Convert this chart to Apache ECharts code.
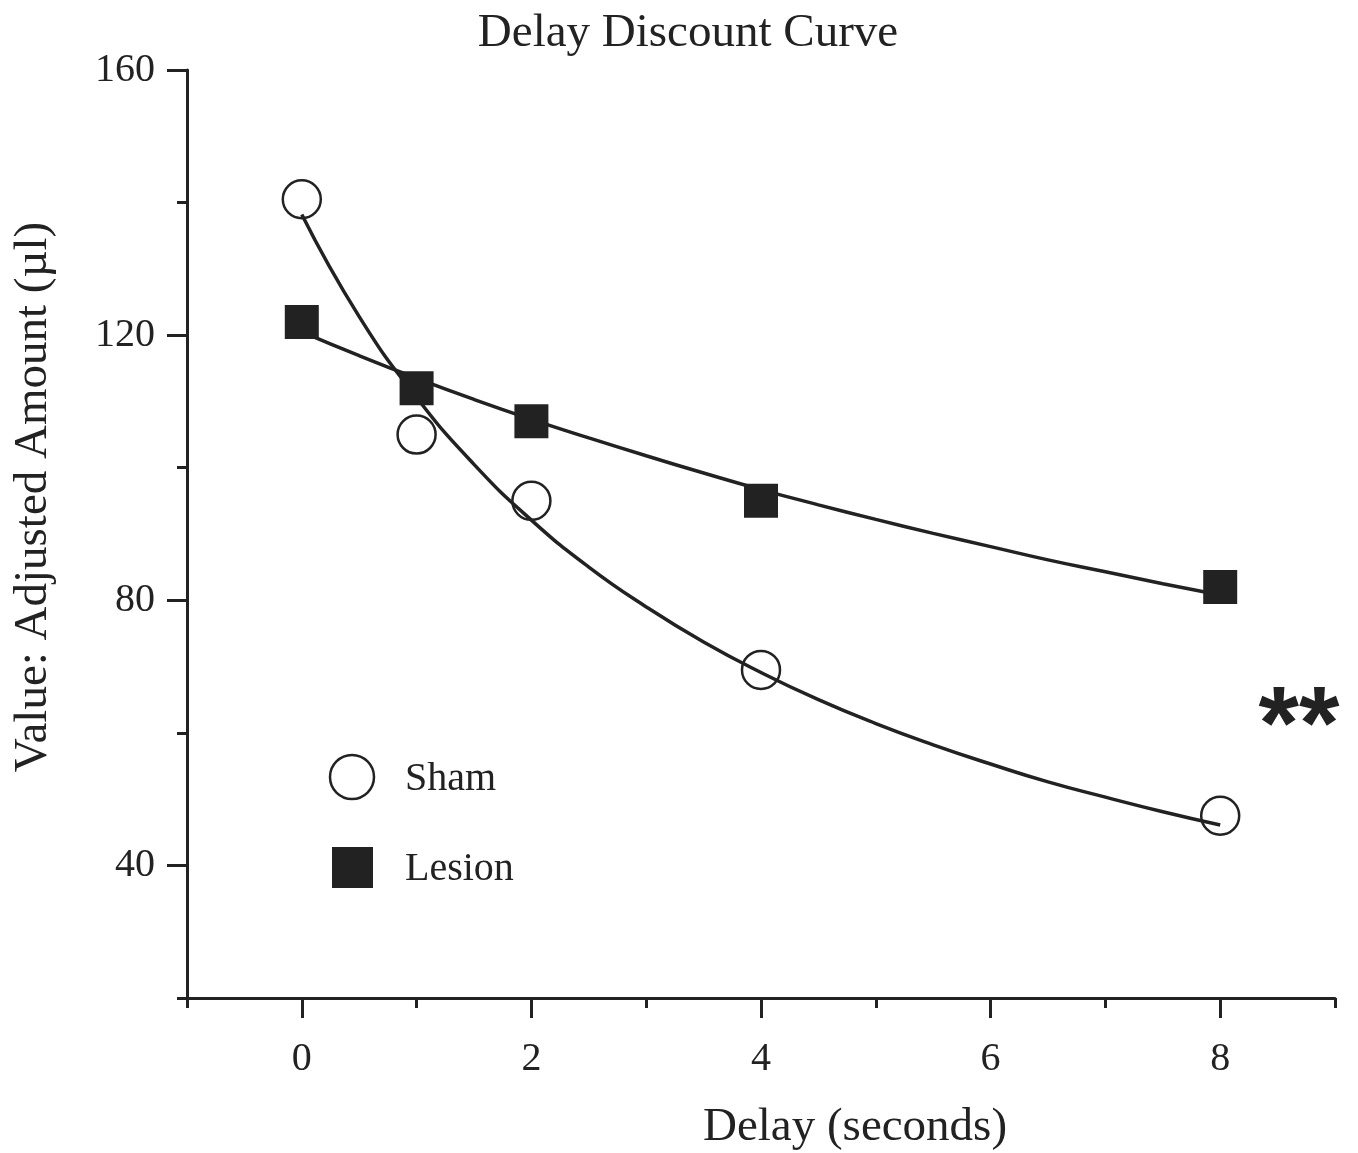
<!DOCTYPE html>
<html>
<head>
<meta charset="utf-8">
<title>Delay Discount Curve</title>
<script src="https://cdn.jsdelivr.net/npm/echarts@6/dist/echarts.min.js"></script>
<style>
  html, body { margin: 0; padding: 0; background: #fff; }
  #chart { width: 1358px; height: 1153px; }
</style>
</head>
<body>
<div id="chart"></div>
<script>
// Delays tested (seconds)
const delays = [0, 1, 2, 4, 8];
// Mean adjusted amounts (µl) per group
const shamValues = [140.5, 105, 95, 69.5, 47.5];
const lesionValues = [122, 112, 107, 95, 82];

// Fitted discount curves, sampled every half second along the delay axis
const fitDelays = [0, 0.5, 1, 1.5, 2, 2.5, 3, 3.5, 4, 4.5, 5, 5.5, 6, 6.5, 7, 7.5, 8];
const shamFit = [138.2, 122.8, 110.6, 100.5, 92.1, 85.0, 79.0, 73.7, 69.1, 65.0, 61.4, 58.2, 55.3, 52.6, 50.3, 48.1, 46.1];
const lesionFit = [120.5, 116.9, 113.5, 110.3, 107.3, 104.5, 101.8, 99.2, 96.7, 94.4, 92.2, 90.1, 88.1, 86.1, 84.3, 82.5, 80.8];

// Axis tick positions and labels
const xMajorTicks = [0, 2, 4, 6, 8];
const xMinorTicks = [-1, 1, 3, 5, 7, 9];
const yMajorTicks = [40, 80, 120, 160];
const yMinorTicks = [20, 60, 100, 140];

const ink = '#222';
const serif = '"Liberation Serif", "Times New Roman", serif';

const pairs = (xs, ys) => xs.map((x, i) => [x, ys[i]]);

const chart = echarts.init(document.getElementById('chart'), null, { renderer: 'canvas' });

const axisLineStyle = { color: ink, width: 3 };

chart.setOption({
  backgroundColor: '#fff',
  animation: false,
  grid: { left: 187, right: 23, top: 70, bottom: 155, containLabel: false },
  xAxis: [
    {
      type: 'value', min: -1, max: 9, interval: 1, position: 'bottom',
      axisLine: { show: true, onZero: false, lineStyle: axisLineStyle },
      axisTick: { show: true, customValues: xMajorTicks, length: 20, lineStyle: { color: ink, width: 3 } },
      axisLabel: { customValues: xMajorTicks, margin: 41, color: ink, fontFamily: serif, fontSize: 40 },
      splitLine: { show: false }
    },
    {
      type: 'value', min: -1, max: 9, interval: 1, position: 'bottom', offset: 0,
      axisLine: { show: false, onZero: false },
      axisTick: { show: true, customValues: xMinorTicks, length: 10, lineStyle: { color: ink, width: 3 } },
      axisLabel: { show: false },
      splitLine: { show: false }
    }
  ],
  yAxis: [
    {
      type: 'value', min: 20, max: 160, interval: 20, position: 'left',
      axisLine: { show: true, onZero: false, lineStyle: axisLineStyle },
      axisTick: { show: true, customValues: yMajorTicks, length: 20, lineStyle: { color: ink, width: 3 } },
      axisLabel: { customValues: yMajorTicks, margin: 32, color: ink, fontFamily: serif, fontSize: 40 },
      splitLine: { show: false }
    },
    {
      type: 'value', min: 20, max: 160, interval: 20, position: 'left', offset: 0,
      axisLine: { show: false, onZero: false },
      axisTick: { show: true, customValues: yMinorTicks, length: 10, lineStyle: { color: ink, width: 3 } },
      axisLabel: { show: false },
      splitLine: { show: false }
    }
  ],
  series: [
    {
      name: 'Sham fit', type: 'line', smooth: true, showSymbol: false,
      data: pairs(fitDelays, shamFit),
      lineStyle: { color: ink, width: 3.5 }, z: 2
    },
    {
      name: 'Lesion fit', type: 'line', smooth: true, showSymbol: false,
      data: pairs(fitDelays, lesionFit),
      lineStyle: { color: ink, width: 3.5 }, z: 2
    },
    {
      name: 'Sham', type: 'scatter', symbol: 'circle', symbolSize: 38,
      data: pairs(delays, shamValues),
      itemStyle: { color: 'rgba(0,0,0,0)', borderColor: ink, borderWidth: 2.5, opacity: 1 },
      z: 3
    },
    {
      name: 'Lesion', type: 'scatter', symbol: 'rect', symbolSize: 34,
      data: pairs(delays, lesionValues),
      itemStyle: { color: ink, opacity: 1 },
      z: 3
    }
  ],
  graphic: [
    { type: 'text', x: 688, y: 34, style: { text: 'Delay Discount Curve', fill: ink, font: '47px ' + serif, textAlign: 'center', textVerticalAlign: 'middle' } },
    { type: 'text', x: 855, y: 1128, style: { text: 'Delay (seconds)', fill: ink, font: '47px ' + serif, textAlign: 'center', textVerticalAlign: 'middle' } },
    { type: 'text', x: 34, y: 497, rotation: Math.PI / 2, style: { text: 'Value: Adjusted Amount (µl)', fill: ink, font: '47px ' + serif, textAlign: 'center', textVerticalAlign: 'middle' } },
    // Legend
    { type: 'circle', shape: { cx: 352, cy: 777, r: 22 }, style: { fill: 'none', stroke: ink, lineWidth: 2.5 } },
    { type: 'text', x: 405, y: 779, style: { text: 'Sham', fill: ink, font: '40px ' + serif, textAlign: 'left', textVerticalAlign: 'middle' } },
    { type: 'rect', shape: { x: 332, y: 847, width: 41, height: 41 }, style: { fill: ink } },
    { type: 'text', x: 405, y: 869, style: { text: 'Lesion', fill: ink, font: '40px ' + serif, textAlign: 'left', textVerticalAlign: 'middle' } },
    // Significance marker
    { type: 'text', x: 1299, y: 730, style: { text: '**', fill: ink, font: 'bold 104px "Liberation Sans", Arial, sans-serif', textAlign: 'center', textVerticalAlign: 'middle' } }
  ]
});
</script>
</body>
</html>
